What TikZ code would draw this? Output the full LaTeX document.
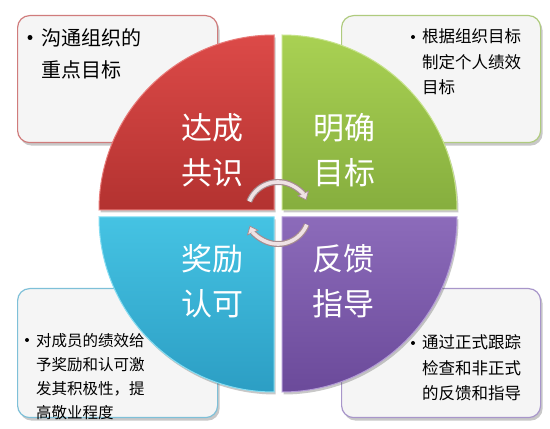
\documentclass[tikz,border=0pt]{standalone}
\usepackage{fontspec}
\newfontfamily\cjk{Noto Sans CJK SC}
\usetikzlibrary{shadows,arrows.meta,calc}
\definecolor{redtop}{HTML}{DC4A48}
\definecolor{redbot}{HTML}{B33230}
\definecolor{redhi}{HTML}{E87A78}
\definecolor{greentop}{HTML}{A9D153}
\definecolor{greenbot}{HTML}{86AE3E}
\definecolor{greenhi}{HTML}{C6E38A}
\definecolor{cyantop}{HTML}{45C3E3}
\definecolor{cyanbot}{HTML}{2C9EC4}
\definecolor{cyanhi}{HTML}{86DDF2}
\definecolor{purptop}{HTML}{8C6BBA}
\definecolor{purpbot}{HTML}{6B4A9A}
\definecolor{purphi}{HTML}{B29AD6}
\definecolor{redline}{HTML}{D07C7C}
\definecolor{greenline}{HTML}{AFCB7E}
\definecolor{cyanline}{HTML}{7EC0D8}
\definecolor{purpline}{HTML}{A896CA}
\definecolor{boxfill}{HTML}{F5F5F5}
\definecolor{arrowedge}{HTML}{A68C90}
\definecolor{arrowfill}{HTML}{EFE2E4}
\begin{document}
\begin{tikzpicture}[x=1pt,y=1pt,
  infobox/.style={rectangle, rounded corners=12pt, fill=boxfill, line width=1.2pt,
    anchor=north west, inner sep=0pt,
    drop shadow={shadow xshift=2pt, shadow yshift=-3pt, opacity=0.3, fill=black!70}},
  quad/.style={line width=1pt,
    drop shadow={shadow xshift=1.5pt, shadow yshift=-2.5pt, opacity=0.3, fill=black!70}},
  quadlabel/.style={text=white, align=center, inner sep=0pt,
    font=\cjk\fontsize{31}{45}\selectfont},
  bigtext/.style={anchor=west, align=left, inner sep=0pt, text=black,
    font=\cjk\fontsize{20}{32}\selectfont},
  midtext/.style={anchor=west, align=left, inner sep=0pt, text=black,
    font=\cjk\fontsize{16.5}{25.5}\selectfont},
  smalltext/.style={anchor=west, align=left, inner sep=0pt, text=black,
    font=\cjk\fontsize{15.5}{24}\selectfont},
  bulletmark/.style={circle, fill=black, inner sep=0pt, minimum size=4pt},
  bigbullet/.style={circle, fill=black, inner sep=0pt, minimum size=5pt},
  cyclearrow/.style={line width=6pt, draw=arrowedge,
    -{Triangle[width=13pt,length=8pt,fill=arrowfill,line width=0.8pt]}},
  cycleinner/.style={line width=3.6pt, draw=arrowfill, shorten >=7pt}
]
\useasboundingbox[fill=white] (0,0) rectangle (550,429);

% information boxes
\node[infobox, draw=redline,   minimum width=200pt, minimum height=127pt] (boxTL) at (17,414) {};
\node[infobox, draw=greenline, minimum width=199pt, minimum height=127pt] (boxTR) at (341,414) {};
\node[infobox, draw=cyanline,  minimum width=200pt, minimum height=129pt] (boxBL) at (17,141) {};
\node[infobox, draw=purpline,  minimum width=199pt, minimum height=129pt] (boxBR) at (341,141) {};

% quadrants
\path[quad, top color=redtop, bottom color=redbot, draw=redhi]
  (274,219) -- ++(-175,0) arc[start angle=180, end angle=90, radius=175] -- cycle;
\path[quad, top color=greentop, bottom color=greenbot, draw=greenhi]
  (282,219) -- ++(0,175) arc[start angle=90, end angle=0, radius=175] -- cycle;
\path[quad, top color=cyantop, bottom color=cyanbot, draw=cyanhi]
  (274,212) -- ++(0,-175) arc[start angle=270, end angle=180, radius=175] -- cycle;
\path[quad, top color=purptop, bottom color=purpbot, draw=purphi]
  (282,212) -- ++(175,0) arc[start angle=0, end angle=-90, radius=175] -- cycle;

% quadrant labels
\node[quadlabel] (lblA) at (212,278.5) {达成\\共识};
\node[quadlabel] (lblB) at (344,278.5) {明确\\目标};
\node[quadlabel] (lblC) at (212,147.5) {奖励\\认可};
\node[quadlabel] (lblD) at (343,147.5) {反馈\\指导};

% cycle arrows
\coordinate (hub) at (278,216);
\coordinate (upS) at ($(hub)+(158:31)$);
\coordinate (loS) at ($(hub)+(-22:31)$);
\draw[cyclearrow] (upS) arc[start angle=158, end angle=24, radius=31];
\draw[cycleinner] (upS) arc[start angle=158, end angle=24, radius=31];
\draw[cyclearrow] (loS) arc[start angle=-22, end angle=-156, radius=31];
\draw[cycleinner] (loS) arc[start angle=-22, end angle=-156, radius=31];

% box texts
\node[bigbullet] (bTL) at (30,391.5) {};
\node[bigtext] (tTL) at (41,375) {沟通组织的\\重点目标};
\node[bulletmark] (bTR) at (413,392) {};
\node[midtext] (tTR) at (422,367) {根据组织目标\\制定个人绩效\\目标};
\node[bulletmark] (bBL) at (27,89) {};
\node[smalltext] (tBL) at (36,52.5) {对成员的绩效给\\予奖励和认可激\\发其积极性，提\\高敬业程度};
\node[bulletmark] (bBR) at (413,86) {};
\node[midtext] (tBR) at (422,61) {通过正式跟踪\\检查和非正式\\的反馈和指导};
\end{tikzpicture}
\end{document}
